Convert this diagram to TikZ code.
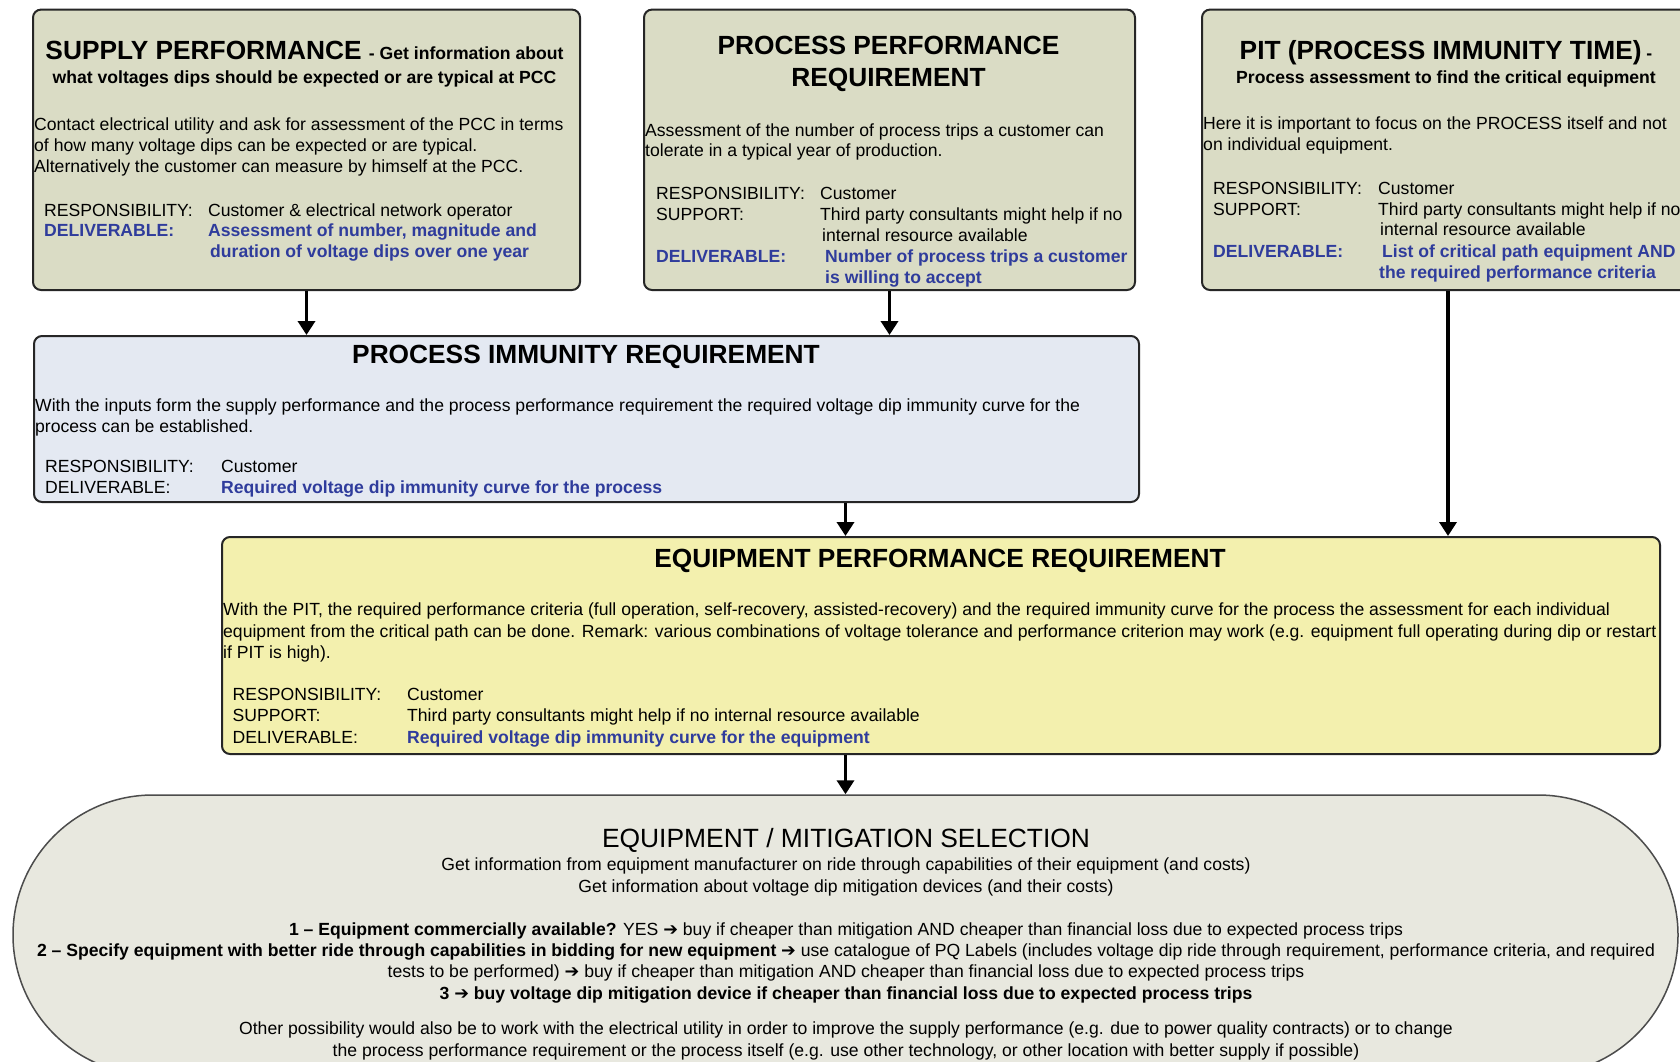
\documentclass[tikz,border=0pt]{standalone}
\usepackage{fontspec}
\setmainfont{Liberation Sans}
\newfontfamily\arrowfont{DejaVu Sans}
\usetikzlibrary{arrows.meta,shapes.misc}
\definecolor{delblue}{HTML}{2F3C9C}
\definecolor{topfill}{HTML}{DADCC5}
\definecolor{pirfill}{HTML}{E4E9F2}
\definecolor{eprfill}{HTML}{F3F0AE}
\definecolor{selfill}{HTML}{E8E8DF}
\newcommand{\txtsz}{\fontsize{17.6}{21.4}\selectfont}
\newcommand{\ttlsz}{\fontsize{26.3}{30}\selectfont\bfseries}
\newcommand{\arw}{{\arrowfont\bfseries ➔}}
\tikzset{
  panel/.style={draw=black!85, line width=2pt, rounded corners=8pt, anchor=north west, inner sep=0pt},
  arr/.style={line width=3.8pt, -{Triangle[width=17pt,length=14pt]}},
  tl/.style={anchor=base west, inner sep=0pt, font=\txtsz},
  tc/.style={anchor=base, inner sep=0pt, font=\txtsz},
  tlb/.style={anchor=base west, inner sep=0pt, font=\txtsz\bfseries, text=delblue},
  ttl/.style={anchor=base, inner sep=0pt, font=\ttlsz},
}
\begin{document}
\begin{tikzpicture}[x=1pt,y=-1pt]
\useasboundingbox (0,0) rectangle (1680,1062);
\clip (0,0) rectangle (1680,1062);
\fill[white] (0,0) rectangle (1680,1062);

% ---------- boxes ----------
\node[panel, fill=topfill, minimum width=547pt, minimum height=280.4pt] (sp) at (32,8.6) {};
\node[panel, fill=topfill, minimum width=491pt, minimum height=280.4pt] (pp) at (643,8.6) {};
\node[panel, fill=topfill, minimum width=492pt, minimum height=280.4pt] (pit) at (1201,8.6) {};
\node[panel, fill=pirfill, minimum width=1105pt, minimum height=166pt] (pir) at (33,335) {};
\node[panel, fill=eprfill, minimum width=1438pt, minimum height=217pt] (epr) at (221,536) {};
\node[rounded rectangle, draw=black!70, line width=1.5pt, fill=selfill, minimum width=1665pt, minimum height=280pt, inner sep=0pt] (sel) at (845.5,935) {};

% ---------- arrows ----------
\draw[arr] (sp.south) -- (pir.north -| sp.south);
\draw[arr] (pp.south) -- (pir.north -| pp.south);
\draw[arr] (pit.south) -- (epr.north -| pit.south);
\draw[arr] (pir.south -| sel.north) -- (epr.north -| sel.north);
\draw[arr] (epr.south -| sel.north) -- (sel.north);

% ---------- supply performance ----------
\node[ttl] (t1) at (304.5,60) {SUPPLY PERFORMANCE {\txtsz\bfseries - Get information about}};
\node[tc, font=\txtsz\bfseries] (t1s) at (304.5,84) {what voltages dips should be expected or are typical at PCC};
\node[tl] (b1a) at (34,130.5) {Contact electrical utility and ask for assessment of the PCC in terms};
\node[tl] (b1b) at (34,151.5) {of how many voltage dips can be expected or are typical.};
\node[tl] (b1c) at (34,172.5) {Alternatively the customer can measure by himself at the PCC.};
\node[tl] (r1) at (44,216) {RESPONSIBILITY:};
\node[tl] (r1v) at (208,216) {Customer \& electrical network operator};
\node[tlb] (d1) at (44,236.7) {DELIVERABLE:};
\node[tlb] (d1v) at (208,236.7) {Assessment of number, magnitude and};
\node[tlb] (d1w) at (210,257.5) {duration of voltage dips over one year};

% ---------- process performance requirement ----------
\node[ttl] (t2a) at (888.5,55) {PROCESS PERFORMANCE};
\node[ttl] (t2b) at (888.5,86.7) {REQUIREMENT};
\node[tl] (b2a) at (645,136) {Assessment of the number of process trips a customer can};
\node[tl] (b2b) at (645,157) {tolerate in a typical year of production.};
\node[tl] (r2) at (656,199.3) {RESPONSIBILITY:};
\node[tl] (r2v) at (820,199.3) {Customer};
\node[tl] (s2) at (656,220.7) {SUPPORT:};
\node[tl] (s2v) at (820,220.7) {Third party consultants might help if no};
\node[tl] (s2w) at (822,241.3) {internal resource available};
\node[tlb] (d2) at (656,262.5) {DELIVERABLE:};
\node[tlb] (d2v) at (825,262.5) {Number of process trips a customer};
\node[tlb] (d2w) at (825,283.3) {is willing to accept};

% ---------- PIT ----------
\node[ttl] (t3a) at (1446,60) {PIT (PROCESS IMMUNITY TIME){\txtsz\bfseries\ -}};
\node[tc, font=\txtsz\bfseries] (t3b) at (1446,84) {Process assessment to find the critical equipment};
\node[tl] (b3a) at (1203,130) {Here it is important to focus on the PROCESS itself and not};
\node[tl] (b3b) at (1203,150.7) {on individual equipment.};
\node[tl] (r3) at (1213,194) {RESPONSIBILITY:};
\node[tl] (r3v) at (1378,194) {Customer};
\node[tl] (s3) at (1213,215) {SUPPORT:};
\node[tl] (s3v) at (1378,215) {Third party consultants might help if no};
\node[tl] (s3w) at (1380,235.7) {internal resource available};
\node[tlb] (d3) at (1213,257.3) {DELIVERABLE:};
\node[tlb] (d3v) at (1382,257.3) {List of critical path equipment AND};
\node[tlb] (d3w) at (1379,278.3) {the required performance criteria};

% ---------- process immunity requirement ----------
\node[ttl] (t4) at (586,363) {PROCESS IMMUNITY REQUIREMENT};
\node[tl] (b4a) at (35,411) {With the inputs form the supply performance and the process performance requirement the required voltage dip immunity curve for the};
\node[tl] (b4b) at (35,432) {process can be established.};
\node[tl] (r4) at (45,472) {RESPONSIBILITY:};
\node[tl] (r4v) at (221,472) {Customer};
\node[tl] (d4) at (45,493) {DELIVERABLE:};
\node[tlb] (d4v) at (221,493) {Required voltage dip immunity curve for the process};

% ---------- equipment performance requirement ----------
\node[ttl] (t5) at (940,567.5) {EQUIPMENT PERFORMANCE REQUIREMENT};
\node[tl] (b5a) at (223,615.5) {With the PIT, the required performance criteria (full operation, self-recovery, assisted-recovery) and the required immunity curve for the process the assessment for each individual};
\node[tl] (b5b) at (223,637) {equipment from the critical path can be done. Remark: various combinations of voltage tolerance and performance criterion may work (e.g. equipment full operating during dip or restart};
\node[tl] (b5c) at (223,658.5) {if PIT is high).};
\node[tl] (r5) at (232.5,700) {RESPONSIBILITY:};
\node[tl] (r5v) at (407,700) {Customer};
\node[tl] (s5) at (232.5,721.5) {SUPPORT:};
\node[tl] (s5v) at (407,721.5) {Third party consultants might help if no internal resource available};
\node[tl] (d5) at (232.5,743) {DELIVERABLE:};
\node[tlb] (d5v) at (407,743) {Required voltage dip immunity curve for the equipment};

% ---------- equipment / mitigation selection ----------
\node[tc, font=\fontsize{26.4}{30}\selectfont] (t6) at (846,847) {EQUIPMENT / MITIGATION SELECTION};
\node[tc] (c6a) at (846,870.5) {Get information from equipment manufacturer on ride through capabilities of their equipment (and costs)};
\node[tc] (c6b) at (846,892) {Get information about voltage dip mitigation devices (and their costs)};
\node[tc] (c6c) at (846,935) {\textbf{1 – Equipment commercially available?} YES \arw\ buy if cheaper than mitigation AND cheaper than financial loss due to expected process trips};
\node[tc] (c6d) at (846,956) {\textbf{2 – Specify equipment with better ride through capabilities in bidding for new equipment \arw} use catalogue of PQ Labels (includes voltage dip ride through requirement, performance criteria, and required};
\node[tc] (c6e) at (846,977.6) {tests to be performed) \arw\ buy if cheaper than mitigation AND cheaper than financial loss due to expected process trips};
\node[tc, font=\txtsz\bfseries] (c6f) at (846,999) {3 \arw\ buy voltage dip mitigation device if cheaper than financial loss due to expected process trips};
\node[tc] (c6g) at (846,1034.5) {Other possibility would also be to work with the electrical utility in order to improve the supply performance (e.g. due to power quality contracts) or to change};
\node[tc] (c6h) at (846,1056) {the process performance requirement or the process itself (e.g. use other technology, or other location with better supply if possible)};
\end{tikzpicture}
\end{document}
